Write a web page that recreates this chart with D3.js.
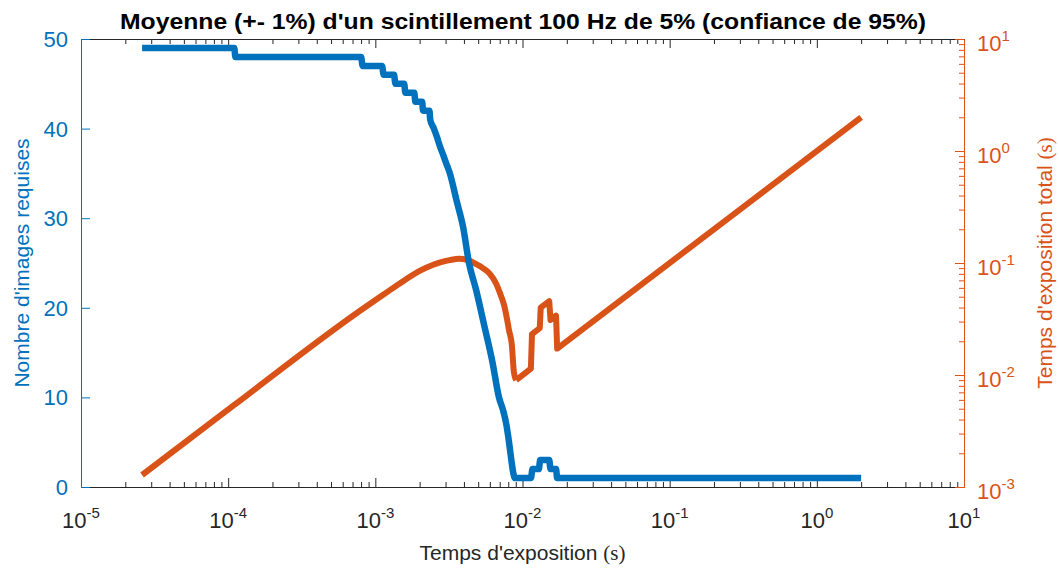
<!DOCTYPE html>
<html><head><meta charset="utf-8">
<script src="https://cdn.jsdelivr.net/npm/d3@7"></script>
<style>body{margin:0;background:#fff}svg{display:block}</style></head>
<body><svg id="c" width="1059" height="572"></svg>
<script>
// ---- data ----
const titleText = "Moyenne (+- 1%) d'un scintillement 100 Hz de 5% (confiance de 95%)";
const xLabelText = "Temps d'exposition ";
const yLeftLabelText = "Nombre d'images requises";
const yRightLabelText = "Temps d'exposition total ";
const unitText = "(s)";

const blueTimes = [2.6e-5, 1.10e-4, 1.12e-4, 8.0e-4, 8.2e-4, 1.11e-3, 1.14e-3, 1.34e-3, 1.37e-3, 1.57e-3, 1.60e-3, 1.84e-3, 1.87e-3, 2.08e-3, 2.11e-3, 2.33e-3, 2.36e-3, 2.50e-3, 2.63e-3, 2.75e-3, 2.90e-3, 3.05e-3, 3.21e-3, 3.56e-3, 3.95e-3, 4.33e-3, 4.84e-3, 5.5e-3, 6.24e-3, 6.92e-3, 7.4e-3, 7.76e-3, 8.1e-3, 8.4e-3, 8.65e-3, 8.9e-3, 1.14e-2, 1.17e-2, 1.29e-2, 1.32e-2, 1.52e-2, 1.55e-2, 1.69e-2, 1.72e-2, 2.0];
const blueCounts = [49, 49, 48, 48, 47, 47, 46, 46, 45, 45, 44, 44, 43, 43, 42, 42, 41, 40, 39, 38, 37, 36, 35, 32, 29, 25, 22, 18, 14, 10, 8.5, 7, 5, 3, 1.6, 1, 1, 2, 2, 3, 3, 2, 2, 1, 1];

// total exposure: smooth rise/peak/fall, then the jagged part and straight tail
const orangeTimes = [2.6e-5, 1.1e-4, 8.0e-4, 1.13e-3, 1.6e-3, 2.0e-3, 2.5e-3, 2.8e-3, 3.2e-3, 3.7e-3, 4.2e-3, 4.75e-3, 5.38e-3, 6.0e-3, 6.6e-3, 7.1e-3, 7.5e-3, 7.8e-3, 8.1e-3, 8.45e-3, 8.75e-3, 9.05e-3, 1.14e-2, 1.16e-2, 1.31e-2, 1.33e-2, 1.52e-2, 1.55e-2, 1.69e-2, 1.72e-2, 2.0];
const orangeTotals = [1.28e-3, 5.4e-3, 3.8e-2, 5.2e-2, 7.1e-2, 8.5e-2, 9.7e-2, 0.102, 0.106, 0.109, 0.107, 0.099, 0.090, 0.080, 0.066, 0.052, 0.042, 0.033, 0.025, 0.019, 0.0105, 0.0090, 0.0114, 0.0232, 0.0262, 0.0399, 0.0456, 0.031, 0.0338, 0.0172, 2.0];
const orangeSmoothCount = 22; // first points drawn as a smooth curve

const xTickExps = [-5, -4, -3, -2, -1, 0, 1];
const yLeftTicks = [0, 10, 20, 30, 40, 50];
const yRightTickExps = [-3, -2, -1, 0, 1];

// ---- layout ----
const W = 1059, H = 572;
const L = 81, R = 964, T = 39, B = 487;
const BLUE = "#0072BD", ORANGE = "#D95319", DARK = "#262626";
const FONT = "'Liberation Sans', Arial, Helvetica, sans-serif";
const SERIF = "'Liberation Serif', 'DejaVu Serif', serif";
const FS = 22;

const svg = d3.select("#c");
const x = d3.scaleLog().domain([1e-5, 10]).range([L, R]);
const yL = d3.scaleLinear().domain([0, 50]).range([B, T]);
const yR = d3.scaleLog().domain([1e-3, 10]).range([B, T]);

const minorVals = (e0, e1) => { const v = []; for (let e = e0; e < e1; e++) for (let m = 2; m <= 9; m++) v.push(m * Math.pow(10, e)); return v; };
const xMajor = xTickExps.map(e => Math.pow(10, e));
const rMajor = yRightTickExps.map(e => Math.pow(10, e));

function styleAxis(g, color) {
  g.selectAll("path").attr("stroke", color).attr("stroke-width", 1);
  g.selectAll("line").attr("stroke", color).attr("stroke-width", 1);
  g.selectAll("text").remove();
}

// x axes (bottom & top), inward ticks
svg.append("g").attr("transform", `translate(0,${B})`)
  .call(d3.axisBottom(x).tickValues(minorVals(-5, 1)).tickSizeInner(-5).tickSizeOuter(0).tickFormat(""))
  .call(g => styleAxis(g, DARK));
svg.append("g").attr("transform", `translate(0,${B})`)
  .call(d3.axisBottom(x).tickValues(xMajor).tickSizeInner(-9).tickSizeOuter(0).tickFormat(""))
  .call(g => styleAxis(g, DARK));
svg.append("g").attr("transform", `translate(0,${T})`)
  .call(d3.axisTop(x).tickValues(minorVals(-5, 1)).tickSizeInner(-5).tickSizeOuter(0).tickFormat(""))
  .call(g => styleAxis(g, DARK));
svg.append("g").attr("transform", `translate(0,${T})`)
  .call(d3.axisTop(x).tickValues(xMajor).tickSizeInner(-9).tickSizeOuter(0).tickFormat(""))
  .call(g => styleAxis(g, DARK));

// left axis
svg.append("g").attr("transform", `translate(${L},0)`)
  .call(d3.axisLeft(yL).tickValues(yLeftTicks).tickSizeInner(-9).tickSizeOuter(0).tickFormat(""))
  .call(g => styleAxis(g, BLUE));
// right axis
svg.append("g").attr("transform", `translate(${R},0)`)
  .call(d3.axisRight(yR).tickValues(minorVals(-3, 1)).tickSizeInner(-5).tickSizeOuter(0).tickFormat(""))
  .call(g => styleAxis(g, ORANGE));
svg.append("g").attr("transform", `translate(${R},0)`)
  .call(d3.axisRight(yR).tickValues(rMajor).tickSizeInner(-9).tickSizeOuter(0).tickFormat(""))
  .call(g => styleAxis(g, ORANGE));

// power-of-ten label helper
function pow10Label(g, px, py, exp, color, anchor) {
  const t = g.append("text").attr("x", px).attr("y", py).attr("fill", color)
    .attr("font-family", FONT).attr("font-size", FS).attr("text-anchor", anchor);
  t.append("tspan").text("10");
  t.append("tspan").attr("dy", -10).attr("font-size", 15).text(String(exp));
  return t;
}

// x tick labels
const xl = svg.append("g");
xTickExps.forEach(e => pow10Label(xl, x(Math.pow(10, e)), B + 41, e, DARK, "middle"));
// left tick labels
const ll = svg.append("g");
yLeftTicks.forEach(v => ll.append("text").attr("x", L - 13).attr("y", yL(v) + 8)
  .attr("text-anchor", "end").attr("fill", BLUE).attr("font-family", FONT).attr("font-size", FS).text(v));
// right tick labels
const rl = svg.append("g");
yRightTickExps.forEach(e => pow10Label(rl, R + 13, yR(Math.pow(10, e)) + 12, e, ORANGE, "start"));

// axis labels
const xlab = svg.append("text").attr("x", (L + R) / 2).attr("y", H - 12).attr("text-anchor", "middle")
  .attr("fill", DARK).attr("font-family", FONT).attr("font-size", 21);
xlab.append("tspan").text(xLabelText);
xlab.append("tspan").attr("font-family", SERIF).text(unitText);

svg.append("text").attr("transform", `translate(29,${(T + B) / 2}) rotate(-90)`)
  .attr("text-anchor", "middle").attr("fill", BLUE).attr("font-family", FONT).attr("font-size", 21)
  .text(yLeftLabelText);

const rlab = svg.append("text").attr("transform", `translate(1052,${(T + B) / 2}) rotate(-90)`)
  .attr("text-anchor", "middle").attr("fill", ORANGE).attr("font-family", FONT).attr("font-size", 21);
rlab.append("tspan").text(yRightLabelText);
rlab.append("tspan").attr("font-family", SERIF).text(unitText);

// title
svg.append("text").attr("x", (L + R) / 2 + 0.5).attr("y", 29).attr("text-anchor", "middle")
  .attr("fill", "#000").attr("font-family", FONT).attr("font-weight", "bold").attr("font-size", 22)
  .attr("textLength", 806).attr("lengthAdjust", "spacingAndGlyphs")
  .text(titleText);

// series
const blueData = blueTimes.map((t, i) => [t, blueCounts[i]]);
const orangeData = orangeTimes.map((t, i) => [t, orangeTotals[i]]);

const orangeG = svg.append("g").attr("fill", "none").attr("stroke", ORANGE).attr("stroke-width", 6)
  .attr("stroke-linejoin", "round");
orangeG.append("path").datum(orangeData.slice(0, orangeSmoothCount))
  .attr("d", d3.line().curve(d3.curveMonotoneX).x(d => x(d[0])).y(d => yR(d[1])));
orangeG.append("path").datum(orangeData.slice(orangeSmoothCount - 1))
  .attr("d", d3.line().x(d => x(d[0])).y(d => yR(d[1])));

svg.append("path").datum(blueData)
  .attr("fill", "none").attr("stroke", BLUE).attr("stroke-width", 6.5).attr("stroke-linejoin", "round")
  .attr("d", d3.line().curve(d3.curveMonotoneX).x(d => x(d[0])).y(d => yL(d[1])));
</script></body></html>
